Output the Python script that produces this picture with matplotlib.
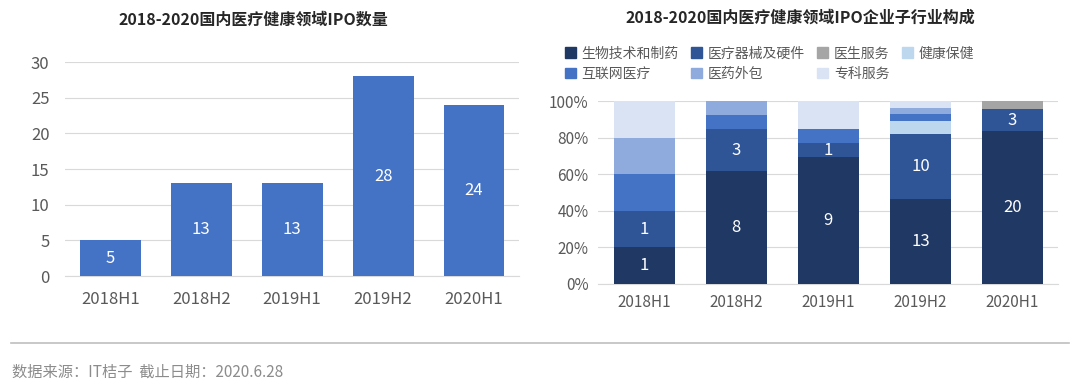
import matplotlib
matplotlib.use('agg')
import matplotlib.pyplot as plt
from matplotlib.lines import Line2D
from matplotlib.patches import Patch
import numpy as np

plt.rcParams['font.family'] = ['Noto Sans CJK SC', 'DejaVu Sans']

# data
periods = ["2018H1", "2018H2", "2019H1", "2019H2", "2020H1"]
ipo_counts = [5, 13, 13, 28, 24]

sectors = ["生物技术和制药", "医疗器械及硬件", "医生服务", "健康保健",
           "互联网医疗", "医药外包", "专科服务"]
bio = [1, 8, 9, 13, 20]
device = [1, 3, 1, 10, 3]
doctor = [0, 0, 0, 0, 1]
health = [0, 0, 0, 2, 0]
internet = [1, 1, 1, 1, 0]
outsource = [1, 1, 0, 1, 0]
specialty = [1, 0, 2, 1, 0]
sector_colors = ["#1f3864", "#2f5597", "#a5a5a5", "#bdd7ee",
                 "#4472c4", "#8faadc", "#dae3f3"]
label_sectors = [0, 1]  # only these get number labels

text_col = "#595959"
grid_col = "#d9d9d9"

fig = plt.figure(figsize=(10.8, 3.9), dpi=100)

# ---- left chart
ax1 = fig.add_axes([0.060, 0.292, 0.421, 0.549])
x = np.arange(len(periods))
bars = ax1.bar(x, ipo_counts, width=0.67, color="#4472c4", zorder=3)
for b, v in zip(bars, ipo_counts):
    ax1.text(b.get_x() + b.get_width() / 2, v / 2, str(v), ha="center",
             va="center", color="white", fontsize=12)
ax1.set_xlim(-0.5, 4.5)
ax1.set_ylim(0, 30)
ax1.set_yticks(range(0, 31, 5))
ax1.set_xticks(x)
ax1.set_xticklabels(periods)
ax1.grid(axis="y", color=grid_col, linewidth=0.8, zorder=0)
for s in ax1.spines.values():
    s.set_visible(False)
ax1.spines["bottom"].set_visible(True)
ax1.spines["bottom"].set_color(grid_col)
ax1.tick_params(length=0, labelsize=12, colors=text_col, pad=11)
fig.text(253 / 1080, 1 - 20 / 390, "2018-2020国内医疗健康领域IPO数量",
         fontsize=11.5, fontweight="bold", color="#262626",
         ha="center", va="center")

# ---- right chart
ax2 = fig.add_axes([0.554, 0.272, 0.426, 0.469])
series = [bio, device, doctor, health, internet, outsource, specialty]
totals = np.sum(np.array(series), axis=0)
bottom = np.zeros(len(periods))
handles = []
for i, (vals, col, name) in enumerate(zip(series, sector_colors, sectors)):
    pct = np.array(vals) / totals * 100
    ax2.bar(x, pct, bottom=bottom, width=0.67, color=col, zorder=3)
    if i in label_sectors:
        for xi, v, p, b0 in zip(x, vals, pct, bottom):
            if v > 0:
                ax2.text(xi, b0 + p / 2, str(v), ha="center", va="center",
                         color="white", fontsize=12)
    bottom += pct
    handles.append(Patch(color=col, label=name))
ax2.set_xlim(-0.5, 4.5)
ax2.set_ylim(0, 100)
ax2.set_yticks(range(0, 101, 20))
ax2.set_yticklabels([f"{t}%" for t in range(0, 101, 20)])
ax2.set_xticks(x)
ax2.set_xticklabels(periods)
ax2.grid(axis="y", color=grid_col, linewidth=0.8, zorder=0)
for s in ax2.spines.values():
    s.set_visible(False)
ax2.spines["bottom"].set_visible(True)
ax2.spines["bottom"].set_color(grid_col)
ax2.tick_params(length=0, labelsize=11, colors=text_col, pad=7)
fig.text(800 / 1080, 1 - 18 / 390, "2018-2020国内医疗健康领域IPO企业子行业构成",
         fontsize=11.5, fontweight="bold", color="#262626",
         ha="center", va="center")

order = [0, 4, 1, 5, 2, 6, 3]
leg = ax2.legend([handles[i] for i in order], [sectors[i] for i in order],
                 ncol=4, loc="lower left", bbox_to_anchor=(-0.085, 1.08),
                 frameon=False, fontsize=10, handlelength=0.8,
                 handleheight=0.8, handletextpad=0.4, columnspacing=0.9,
                 labelspacing=0.45, borderaxespad=0)
for t in leg.get_texts():
    t.set_color(text_col)

# ---- footer
fig.add_artist(Line2D([0.01, 0.99], [1 - 343 / 390] * 2, color="#bfbfbf",
                      linewidth=1.2, transform=fig.transFigure))
fig.text(0.011, 1 - 372 / 390, "数据来源：IT桔子  截止日期：2020.6.28",
         fontsize=11, color="#8c8c8c", va="center")

fig.savefig("out.png", dpi=100, facecolor="white")
